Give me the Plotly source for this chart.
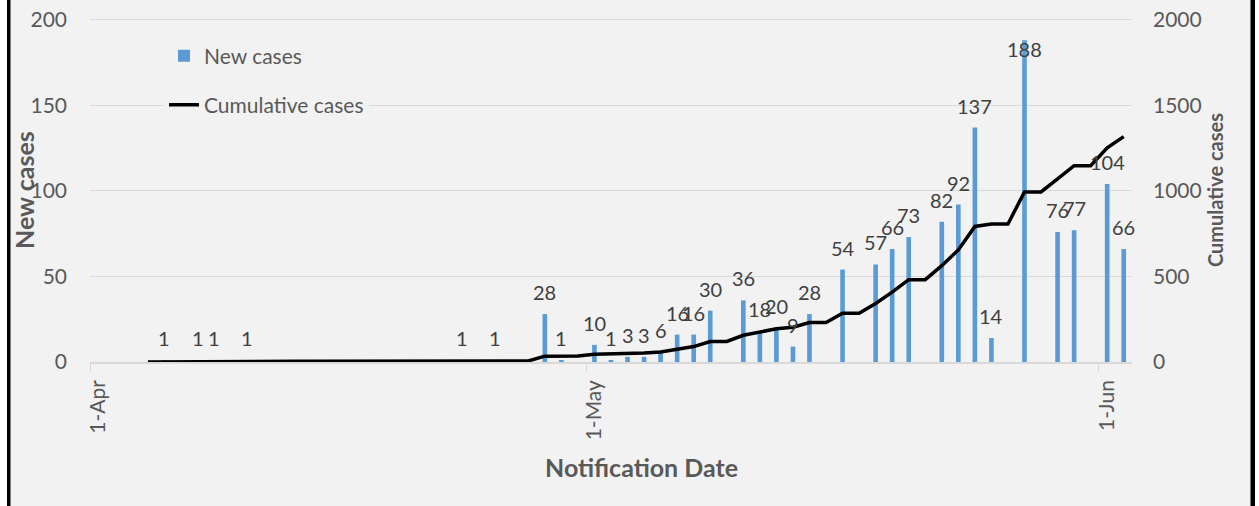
import plotly.graph_objects as go
import pandas as pd

# ---- data ----
dates = pd.date_range("2020-04-04", "2020-06-02", freq="D")

new_cases = [
    0, 1, 0, 1, 1, 0, 1,                      # Apr 4 - Apr 10
    0, 0, 0, 0, 0, 0, 0, 0, 0, 0, 0, 0,       # Apr 11 - Apr 22
    1, 0, 1, 0, 0, 28, 1, 0,                  # Apr 23 - Apr 30
    10, 1, 3, 3, 6, 16, 16, 30, 0, 36,        # May 1 - May 10
    18, 20, 9, 28, 0, 54, 0, 57, 66, 73,      # May 11 - May 20
    0, 82, 92, 137, 14, 0, 188, 0, 76, 77, 0, # May 21 - May 31
    104, 66,                                  # Jun 1 - Jun 2
]

cumulative_cases = [
    0, 1, 1, 2, 3, 3, 4,
    4, 4, 4, 4, 4, 4, 4, 4, 4, 4, 4, 4,
    5, 5, 6, 6, 6, 34, 35, 35,
    45, 46, 49, 52, 58, 74, 90, 120, 120, 156,
    174, 194, 203, 231, 231, 285, 285, 342, 408, 481,
    481, 563, 655, 792, 806, 806, 994, 994, 1070, 1147, 1147,
    1251, 1317,
]

tick_dates = ["2020-04-01", "2020-05-01", "2020-06-01"]
tick_labels = ["1-Apr", "1-May", "1-Jun"]

DAY_MS = 86400000
FONT = "Lato"
GREY = "#595959"

# axis tops are a hair above the last tick so the 200 / 2000 gridline is drawn
Y_TOP = 201
Y2_TOP = 2010
Y_LABEL_LIMIT = 200

FIG_W, FIG_H = 1259, 506
M_L, M_R, M_T, M_B = 90, 127, 18, 144
PLOT_W = FIG_W - M_L - M_R
PLOT_H = FIG_H - M_T - M_B

fig = go.Figure()

fig.add_trace(go.Bar(
    x=dates, y=new_cases, name="New cases",
    xperiod=DAY_MS, xperiodalignment="middle",
    width=0.28 * DAY_MS,
    marker=dict(color="#5B9BD5", line=dict(width=0)),
    legend="legend", hoverinfo="x+y",
))

fig.add_trace(go.Scatter(
    x=dates, y=cumulative_cases, name="Cumulative cases",
    xperiod=DAY_MS, xperiodalignment="middle",
    yaxis="y2", mode="lines",
    line=dict(color="black", width=3.5),
    legend="legend2",
))

# data labels above the bars (inside the bar end when they would leave the plot)
label_units = 32 * Y_TOP / PLOT_H   # approx. label height in data units
annotations = []
for d, v in zip(dates, new_cases):
    if v > 0:
        fits = v + label_units <= Y_LABEL_LIMIT
        annotations.append(dict(
            x=(d + pd.Timedelta(hours=12)).strftime("%Y-%m-%d %H:%M"),
            y=v, xref="x", yref="y",
            text=str(v), showarrow=False,
            yanchor="bottom" if fits else "top",
            xanchor="center", yshift=8 if fits else 5,
            font=dict(family=FONT, size=20, color="#404040"),
        ))


def px(xp):
    """page x pixel -> paper x"""
    return (xp - M_L) / PLOT_W


def py(yp):
    """page y pixel -> paper y"""
    return (M_T + PLOT_H - yp) / PLOT_H


# axis titles placed as in the reference
annotations.append(dict(
    x=px(24), y=py(190), xref="paper", yref="paper",
    text="<b>New cases</b>", textangle=-90, showarrow=False,
    xanchor="center", yanchor="middle",
    font=dict(family=FONT, size=25, color=GREY),
))
annotations.append(dict(
    x=px(641), y=py(467), xref="paper", yref="paper",
    text="<b>Notification Date</b>", showarrow=False,
    xanchor="center", yanchor="middle",
    font=dict(family=FONT, size=25, color=GREY),
))

# frame: white outside, black border lines left and right
shapes = [
    dict(type="rect", xref="paper", yref="paper", x0=px(-5), x1=px(7), y0=-0.5, y1=1.2,
         fillcolor="white", line=dict(width=0), layer="above"),
    dict(type="rect", xref="paper", yref="paper", x0=px(7), x1=px(10.5), y0=-0.5, y1=1.2,
         fillcolor="black", line=dict(width=0), layer="above"),
    dict(type="rect", xref="paper", yref="paper", x0=px(1250.5), x1=px(1255), y0=-0.5, y1=1.2,
         fillcolor="black", line=dict(width=0), layer="above"),
    dict(type="rect", xref="paper", yref="paper", x0=px(1255), x1=px(1265), y0=-0.5, y1=1.2,
         fillcolor="white", line=dict(width=0), layer="above"),
]

legend_common = dict(
    xanchor="left", yanchor="middle",
    bgcolor="#F2F2F2", borderwidth=0,
    font=dict(family=FONT, size=21, color=GREY),
)

fig.update_layout(
    width=FIG_W, height=FIG_H,
    margin=dict(l=M_L, r=M_R, t=M_T, b=M_B, autoexpand=False),
    paper_bgcolor="#F2F2F2", plot_bgcolor="#F2F2F2",
    font=dict(family=FONT, color=GREY),
    showlegend=True,
    legend=dict(x=px(164), y=py(56), **legend_common),
    legend2=dict(x=px(164), y=py(105), **legend_common),
    xaxis=dict(
        type="date",
        range=["2020-04-01", "2020-06-03"],
        tickmode="array", tickvals=tick_dates, ticktext=tick_labels,
        tickangle=-90, ticks="outside", ticklen=8, tickcolor="#D9D9D9",
        ticklabelshift=8, ticklabeloverflow="allow",
        showline=True, linecolor="#D9D9D9", linewidth=1.5,
        showgrid=False, zeroline=False,
        tickfont=dict(family=FONT, size=21, color=GREY),
        automargin=False,
    ),
    yaxis=dict(
        range=[0, Y_TOP], dtick=50, tick0=0,
        showgrid=True, gridcolor="#D9D9D9", gridwidth=1,
        zeroline=False, showline=False, ticks="",
        ticklabelstandoff=22, ticklabeloverflow="allow",
        tickfont=dict(family=FONT, size=21, color=GREY),
        automargin=False,
    ),
    yaxis2=dict(
        range=[0, Y2_TOP], dtick=500, tick0=0,
        overlaying="y", side="right",
        showgrid=False, zeroline=False, showline=False, ticks="",
        ticklabelstandoff=20, ticklabeloverflow="allow",
        tickfont=dict(family=FONT, size=21, color=GREY),
        title=dict(text="<b>Cumulative cases</b>", standoff=8,
                   font=dict(family=FONT, size=20, color=GREY)),
        automargin=False,
    ),
    annotations=annotations,
    shapes=shapes,
)

# the page body has a default 8px margin; remove it so the figure fills the window
fig.write_html(
    "out.html",
    config={"displayModeBar": False},
    post_script="document.body.style.margin='0px';",
)
